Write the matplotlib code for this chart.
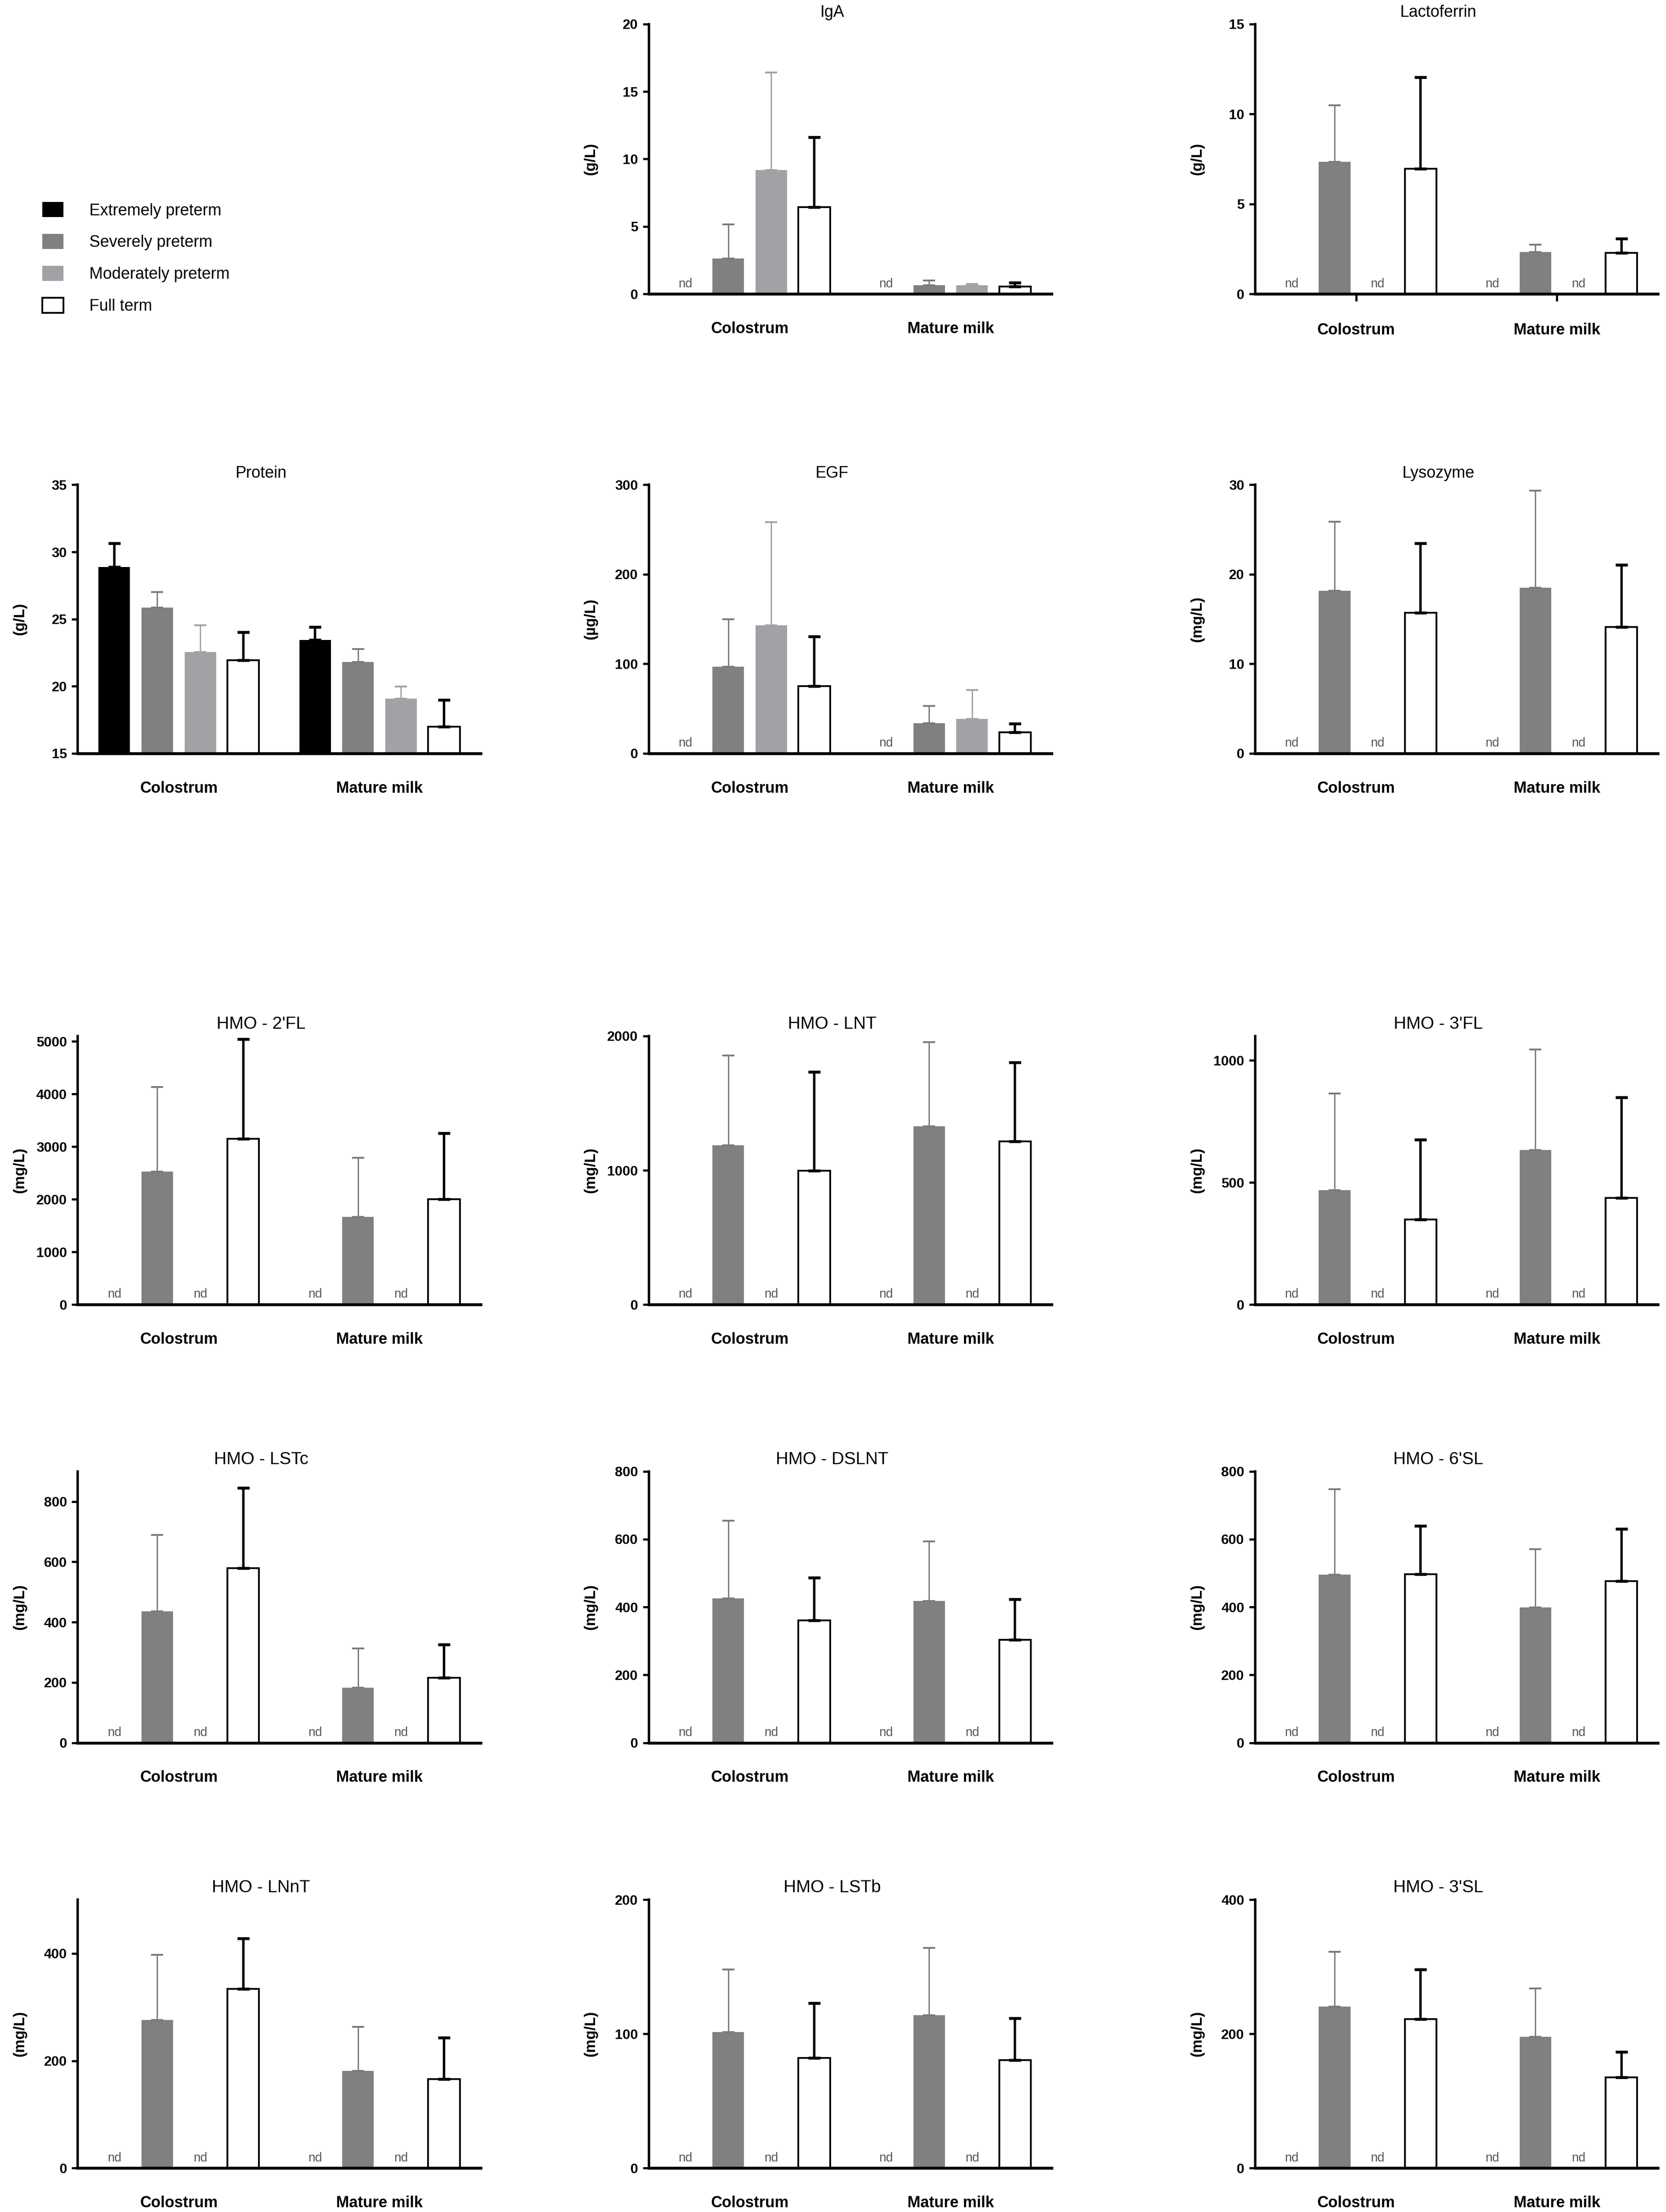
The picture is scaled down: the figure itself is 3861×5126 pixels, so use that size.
import numpy as np
import matplotlib.pyplot as plt
from matplotlib.patches import Patch

plt.rcParams['font.family'] = ['Liberation Sans', 'DejaVu Sans']

# groups on the x axis and the four gestational-age series
groups = ['Colostrum', 'Mature milk']
series = ['Extremely preterm', 'Severely preterm', 'Moderately preterm', 'Full term']

nd = np.nan  # not detected

# values: colostrum (4 series) then mature milk (4 series), mean and SD
iga_mean = [nd, 2.62, 9.2, 6.45, nd, 0.65, 0.65, 0.55]
iga_sd = [nd, 2.53, 7.2, 5.15, nd, 0.35, 0.1, 0.3]

lacto_mean = [nd, 7.35, nd, 6.95, nd, 2.34, nd, 2.29]
lacto_sd = [nd, 3.13, nd, 5.09, nd, 0.39, nd, 0.79]

protein_mean = [28.87, 25.85, 22.55, 21.95, 23.46, 21.82, 19.07, 17.0]
protein_sd = [1.79, 1.17, 1.98, 2.06, 0.95, 0.94, 0.91, 1.98]

egf_mean = [nd, 96.6, 143, 75, nd, 33.8, 38.4, 23.6]
egf_sd = [nd, 53.4, 115.4, 55.4, nd, 19.1, 32.3, 9.7]

lyso_mean = [nd, 18.15, nd, 15.7, nd, 18.5, nd, 14.1]
lyso_sd = [nd, 7.75, nd, 7.75, nd, 10.85, nd, 6.95]

fl2_mean = [nd, 2522, nd, 3147, nd, 1665, nd, 2000]
fl2_sd = [nd, 1607, nd, 1898, nd, 1125, nd, 1259]

lnt_mean = [nd, 1186, nd, 998, nd, 1327, nd, 1214]
lnt_sd = [nd, 670, nd, 736, nd, 629, nd, 590]

fl3_mean = [nd, 468, nd, 349, nd, 634, nd, 437]
fl3_sd = [nd, 397, nd, 326, nd, 411, nd, 411]

lstc_mean = [nd, 436, nd, 579, nd, 183, nd, 216]
lstc_sd = [nd, 253, nd, 266, nd, 130, nd, 110]

dslnt_mean = [nd, 425, nd, 361, nd, 418, nd, 304]
dslnt_sd = [nd, 229, nd, 126, nd, 175, nd, 119]

sl6_mean = [nd, 495, nd, 497, nd, 399, nd, 477]
sl6_sd = [nd, 253, nd, 142, nd, 171, nd, 154]

lnnt_mean = [nd, 276, nd, 334, nd, 181, nd, 166]
lnnt_sd = [nd, 121, nd, 94, nd, 82, nd, 77]

lstb_mean = [nd, 101.5, nd, 82, nd, 114, nd, 80.6]
lstb_sd = [nd, 46.5, nd, 41, nd, 50, nd, 31]

sl3_mean = [nd, 241, nd, 222, nd, 196, nd, 135]
sl3_sd = [nd, 81, nd, 74, nd, 72, nd, 38]

# title, unit, mean, sd, y range, y ticks, grid row, grid column
panels = [
    ('IgA', '(g/L)', iga_mean, iga_sd, (0, 20), [0, 5, 10, 15, 20], 0, 1),
    ('Lactoferrin', '(g/L)', lacto_mean, lacto_sd, (0, 15), [0, 5, 10, 15], 0, 2),
    ('Protein', '(g/L)', protein_mean, protein_sd, (15, 35), [15, 20, 25, 30, 35], 1, 0),
    ('EGF', '(\u00b5g/L)', egf_mean, egf_sd, (0, 300), [0, 100, 200, 300], 1, 1),
    ('Lysozyme', '(mg/L)', lyso_mean, lyso_sd, (0, 30), [0, 10, 20, 30], 1, 2),
    ("HMO - 2'FL", '(mg/L)', fl2_mean, fl2_sd, (0, 5100), [0, 1000, 2000, 3000, 4000, 5000], 2, 0),
    ('HMO - LNT', '(mg/L)', lnt_mean, lnt_sd, (0, 2000), [0, 1000, 2000], 2, 1),
    ("HMO - 3'FL", '(mg/L)', fl3_mean, fl3_sd, (0, 1100), [0, 500, 1000], 2, 2),
    ('HMO - LSTc', '(mg/L)', lstc_mean, lstc_sd, (0, 900), [0, 200, 400, 600, 800], 3, 0),
    ('HMO - DSLNT', '(mg/L)', dslnt_mean, dslnt_sd, (0, 800), [0, 200, 400, 600, 800], 3, 1),
    ("HMO - 6'SL", '(mg/L)', sl6_mean, sl6_sd, (0, 800), [0, 200, 400, 600, 800], 3, 2),
    ('HMO - LNnT', '(mg/L)', lnnt_mean, lnnt_sd, (0, 500), [0, 200, 400], 4, 0),
    ('HMO - LSTb', '(mg/L)', lstb_mean, lstb_sd, (0, 200), [0, 100, 200], 4, 1),
    ("HMO - 3'SL", '(mg/L)', sl3_mean, sl3_sd, (0, 400), [0, 200, 400], 4, 2),
]

fills = ['#000000', '#808080', '#a2a2a6', '#ffffff']
err_cols = ['#000000', '#7a7a7a', '#a2a2a6', '#000000']
err_lw = [2.0, 1.1, 1.1, 2.0]

# bar positions inside a panel
gap = 4.67
xpos = [0, 1, 2, 3, gap, gap + 1, gap + 2, gap + 3]
centers = [1.5, gap + 1.5]

# panel placement, in pixels of a 1179 x 1565 reference grid
W, H = 1179.0, 1565.0
col_left = [55, 459, 888]
col_width = 285
rows = [(17, 208), (343, 533), (733, 923), (1041, 1233), (1344, 1534)]

fig = plt.figure(figsize=(19.31, 25.63), dpi=200)

for title, unit, mean, sd, ylim, yticks, r, c in panels:
    top, bot = rows[r]
    ax = fig.add_axes([col_left[c] / W, 1 - bot / H, col_width / W, (bot - top) / H])
    base = ylim[0]
    for i in range(8):
        k = i % 4
        m = mean[i]
        if np.isnan(m):
            ax.annotate('nd', (xpos[i], base), xytext=(0, 3.5), textcoords='offset points',
                        ha='center', va='bottom', fontsize=10.5, color='#555555')
            continue
        ax.bar(xpos[i], m - base, bottom=base, width=0.735, color=fills[k],
               edgecolor='black' if k == 3 else fills[k], linewidth=1.5 if k == 3 else 0,
               zorder=2)
        ax.errorbar(xpos[i], m, yerr=[[0], [sd[i]]], fmt='none', ecolor=err_cols[k],
                    elinewidth=err_lw[k], capsize=5, capthick=err_lw[k] + 0.4, zorder=3)

    ax.set_xlim(-0.85, 8.52)
    ax.set_ylim(*ylim)
    ax.set_yticks(yticks)
    ax.set_xticks(centers)
    ax.set_xticklabels(groups, fontsize=13, fontweight='bold')
    for s in ['top', 'right']:
        ax.spines[s].set_visible(False)
    ax.spines['left'].set_linewidth(2.0)
    ax.spines['bottom'].set_linewidth(2.4)
    ax.tick_params(axis='y', direction='out', length=5, width=1.8, labelsize=11.5, pad=4)
    for lab in ax.get_yticklabels():
        lab.set_fontweight('bold')
    if title == 'Lactoferrin':
        ax.tick_params(axis='x', length=6, width=1.8, pad=18)
    else:
        ax.tick_params(axis='x', length=0, pad=23)
    ax.set_ylabel(unit, fontsize=12.5, fontweight='bold')
    ax.yaxis.set_label_coords(-36 / col_width, 0.5)
    ax.set_title(title, fontsize=14.5 if title.startswith('HMO') else 13.5, pad=6, x=0.455)

handles = [Patch(facecolor=fills[k], edgecolor='black' if k == 3 else fills[k],
                 linewidth=1.5 if k == 3 else 0) for k in range(4)]
fig.legend(handles, series, loc='upper left', bbox_to_anchor=(30 / W, 1 - 143 / H),
           frameon=False, fontsize=13.5, handlelength=1.3, handleheight=1.05,
           handletextpad=1.6, labelspacing=0.95, borderpad=0, borderaxespad=0)

fig.savefig('out.png', dpi=200)
